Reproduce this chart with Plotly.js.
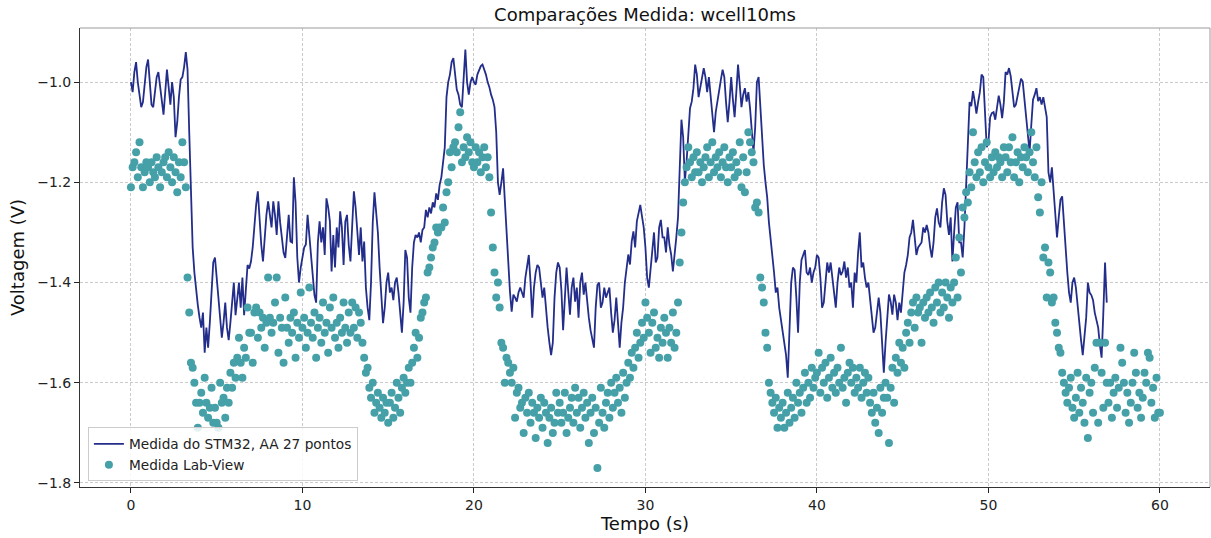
<!DOCTYPE html>
<html>
<head>
<meta charset="utf-8">
<script src="https://cdn.plot.ly/plotly-3.0.1.min.js"></script>
<style>
html,body{margin:0;padding:0;background:#fff;}
#chart{width:1211px;height:538px;}
</style>
</head>
<body>
<div id="chart"></div>
<script>
// ---- Data ----
const tituloGrafico = "Comparações Medida: wcell10ms";
const nomeSTM32 = "Medida do STM32, AA 27 pontos";
const nomeLabView = "Medida Lab-View";
const tituloX = "Tempo (s)";
const tituloY = "Voltagem (V)";

// STM32 measurement (moving average of 27 points), sampled every 0.1 s starting at 0 s
const periodoSTM32 = 0.1;
const tensaoSTM32 = [
 -1.00,-1.02,-0.98,-0.96,-1.00,-1.03,-1.05,-1.04,-1.01,-0.97,
 -0.955,-1.00,-1.045,-1.05,-1.02,-0.99,-0.98,-1.01,-1.03,-1.065,
 -1.02,-0.975,-1.01,-1.045,-1.00,-1.03,-1.11,-1.08,-1.03,-0.995,
 -0.99,-0.97,-0.94,-0.975,-1.10,-1.20,-1.33,-1.38,-1.42,-1.445,
 -1.47,-1.49,-1.46,-1.54,-1.49,-1.53,-1.48,-1.42,-1.36,-1.35,
 -1.39,-1.44,-1.48,-1.51,-1.48,-1.44,-1.49,-1.515,-1.48,-1.44,
 -1.40,-1.465,-1.43,-1.40,-1.45,-1.39,-1.465,-1.41,-1.365,-1.372,
 -1.358,-1.33,-1.278,-1.245,-1.218,-1.278,-1.325,-1.358,-1.305,-1.265,
 -1.238,-1.265,-1.29,-1.238,-1.265,-1.305,-1.238,-1.28,-1.318,-1.34,
 -1.351,-1.305,-1.265,-1.318,-1.32,-1.19,-1.24,-1.35,-1.40,-1.37,
 -1.345,-1.33,-1.324,-1.265,-1.305,-1.345,-1.384,-1.425,-1.44,-1.32,
 -1.278,-1.32,-1.29,-1.345,-1.232,-1.25,-1.278,-1.378,-1.305,-1.37,
 -1.29,-1.33,-1.258,-1.29,-1.365,-1.278,-1.265,-1.325,-1.358,-1.297,
 -1.218,-1.25,-1.305,-1.345,-1.29,-1.358,-1.318,-1.41,-1.45,-1.475,
 -1.40,-1.28,-1.22,-1.26,-1.30,-1.37,-1.44,-1.481,-1.45,-1.40,
 -1.38,-1.42,-1.41,-1.435,-1.40,-1.39,-1.42,-1.47,-1.50,-1.44,
 -1.335,-1.35,-1.43,-1.46,-1.37,-1.32,-1.305,-1.31,-1.30,-1.32,
 -1.295,-1.29,-1.255,-1.27,-1.25,-1.262,-1.24,-1.25,-1.222,-1.235,
 -1.205,-1.19,-1.16,-1.13,-1.03,-1.00,-0.985,-0.96,-0.952,-0.99,
 -1.015,-1.025,-1.045,-1.05,-0.98,-0.935,-1.00,-1.025,-1.00,-0.99,
 -1.00,-1.005,-0.985,-0.975,-0.968,-0.965,-0.975,-0.985,-1.00,-1.01,
 -1.025,-1.035,-1.05,-1.10,-1.20,-1.225,-1.20,-1.172,-1.235,-1.30,
 -1.355,-1.418,-1.458,-1.424,-1.43,-1.438,-1.42,-1.41,-1.42,-1.43,
 -1.39,-1.37,-1.345,-1.40,-1.47,-1.41,-1.38,-1.365,-1.37,-1.40,
 -1.43,-1.41,-1.46,-1.49,-1.52,-1.545,-1.52,-1.43,-1.38,-1.36,
 -1.37,-1.415,-1.495,-1.43,-1.37,-1.418,-1.464,-1.41,-1.39,-1.438,
 -1.41,-1.47,-1.40,-1.38,-1.424,-1.40,-1.44,-1.47,-1.495,-1.515,
 -1.53,-1.45,-1.405,-1.40,-1.45,-1.44,-1.41,-1.43,-1.42,-1.41,
 -1.46,-1.50,-1.475,-1.43,-1.48,-1.53,-1.48,-1.45,-1.40,-1.372,
 -1.344,-1.364,-1.318,-1.298,-1.33,-1.278,-1.262,-1.245,-1.268,-1.29,
 -1.33,-1.39,-1.41,-1.37,-1.33,-1.30,-1.36,-1.35,-1.29,-1.275,
 -1.31,-1.31,-1.34,-1.29,-1.325,-1.344,-1.378,-1.35,-1.31,-1.27,
 -1.17,-1.075,-1.11,-1.198,-1.158,-1.092,-1.052,-1.039,-1.012,-0.965,
 -0.985,-1.03,-1.01,-0.985,-0.972,-0.99,-1.02,-0.99,-1.03,-1.07,
 -1.10,-1.06,-1.035,-1.01,-0.995,-0.975,-0.99,-1.04,-1.08,-1.04,
 -0.99,-1.035,-1.07,-1.02,-0.965,-1.005,-1.05,-1.025,-1.012,-1.039,
 -1.02,-1.052,-1.092,-1.14,-1.09,-1.00,-0.99,-1.05,-1.12,-1.165,
 -1.20,-1.23,-1.28,-1.31,-1.34,-1.38,-1.42,-1.41,-1.45,-1.475,
 -1.505,-1.53,-1.545,-1.59,-1.48,-1.40,-1.37,-1.375,-1.43,-1.50,
 -1.40,-1.355,-1.345,-1.335,-1.38,-1.385,-1.37,-1.40,-1.38,-1.37,
 -1.345,-1.35,-1.39,-1.45,-1.44,-1.40,-1.36,-1.38,-1.36,-1.39,
 -1.42,-1.45,-1.40,-1.37,-1.385,-1.378,-1.358,-1.39,-1.37,-1.41,
 -1.40,-1.45,-1.38,-1.40,-1.34,-1.30,-1.37,-1.36,-1.39,-1.41,
 -1.40,-1.43,-1.46,-1.50,-1.49,-1.465,-1.43,-1.46,-1.52,-1.58,
 -1.52,-1.465,-1.424,-1.438,-1.464,-1.424,-1.44,-1.475,-1.44,-1.46,
 -1.41,-1.38,-1.365,-1.345,-1.31,-1.30,-1.275,-1.31,-1.345,-1.33,
 -1.325,-1.32,-1.29,-1.30,-1.285,-1.30,-1.33,-1.35,-1.32,-1.27,
 -1.252,-1.28,-1.29,-1.24,-1.212,-1.225,-1.278,-1.305,-1.27,-1.358,
 -1.30,-1.25,-1.24,-1.32,-1.32,-1.35,-1.29,-1.20,-1.10,-1.04,
 -1.048,-1.018,-1.038,-1.063,-1.04,-1.02,-0.985,-0.99,-1.06,-1.13,
 -1.12,-1.07,-1.062,-1.06,-1.075,-1.05,-1.027,-1.045,-1.072,-1.04,
 -0.98,-0.985,-0.972,-0.988,-1.02,-1.05,-1.045,-1.028,-1.005,-0.993,
 -0.999,-1.035,-1.068,-1.105,-1.14,-1.085,-1.035,-1.025,-1.012,-1.038,
 -1.03,-1.045,-1.03,-1.05,-1.07,-1.18,-1.20,-1.17,-1.22,-1.27,
 -1.31,-1.27,-1.235,-1.228,-1.28,-1.34,-1.38,-1.42,-1.44,-1.40,
 -1.39,-1.41,-1.45,-1.48,-1.515,-1.545,-1.50,-1.47,-1.40,-1.42,
 -1.425,-1.435,-1.46,-1.475,-1.49,-1.525,-1.55,-1.46,-1.36,-1.44
];

// Lab-View measurement, sampled every 0.1 s starting at 0 s
const periodoLabView = 0.1;
const tensaoLabView = [
 -1.21,-1.17,-1.16,-1.14,-1.19,-1.12,-1.17,-1.21,-1.18,-1.16,
 -1.17,-1.20,-1.16,-1.18,-1.19,-1.15,-1.17,-1.21,-1.18,-1.16,
 -1.15,-1.19,-1.14,-1.17,-1.20,-1.15,-1.18,-1.22,-1.16,-1.19,
 -1.12,-1.16,-1.21,-1.39,-1.46,-1.56,-1.57,-1.60,-1.64,-1.69,
 -1.64,-1.62,-1.66,-1.59,-1.64,-1.67,-1.65,-1.61,-1.68,-1.65,
 -1.68,-1.69,-1.60,-1.64,-1.63,-1.67,-1.61,-1.64,-1.58,-1.61,
 -1.56,-1.59,-1.55,-1.51,-1.56,-1.59,-1.53,-1.55,-1.45,-1.50,
 -1.50,-1.56,-1.46,-1.45,-1.51,-1.46,-1.49,-1.47,-1.53,-1.48,
 -1.39,-1.47,-1.50,-1.48,-1.44,-1.39,-1.54,-1.47,-1.49,-1.56,
 -1.43,-1.49,-1.52,-1.47,-1.50,-1.46,-1.55,-1.48,-1.51,-1.42,
 -1.49,-1.47,-1.53,-1.50,-1.41,-1.48,-1.51,-1.46,-1.55,-1.49,
 -1.47,-1.52,-1.44,-1.50,-1.48,-1.54,-1.45,-1.49,-1.43,-1.51,
 -1.48,-1.53,-1.47,-1.50,-1.44,-1.49,-1.52,-1.46,-1.50,-1.44,
 -1.49,-1.45,-1.51,-1.46,-1.48,-1.52,-1.55,-1.58,-1.57,-1.61,
 -1.63,-1.60,-1.66,-1.64,-1.62,-1.65,-1.67,-1.63,-1.66,-1.64,
 -1.68,-1.64,-1.62,-1.67,-1.65,-1.60,-1.63,-1.66,-1.61,-1.59,
 -1.62,-1.60,-1.57,-1.60,-1.56,-1.53,-1.50,-1.55,-1.51,-1.47,
 -1.46,-1.44,-1.43,-1.38,-1.37,-1.35,-1.33,-1.32,-1.29,-1.30,
 -1.29,-1.29,-1.25,-1.28,-1.22,-1.20,-1.14,-1.17,-1.13,-1.12,
 -1.14,-1.09,-1.06,-1.16,-1.13,-1.15,-1.11,-1.14,-1.12,-1.16,
 -1.17,-1.13,-1.16,-1.14,-1.18,-1.15,-1.13,-1.17,-1.15,-1.19,
 -1.26,-1.33,-1.38,-1.43,-1.40,-1.45,-1.52,-1.53,-1.60,-1.55,
 -1.56,-1.58,-1.60,-1.57,-1.67,-1.62,-1.61,-1.65,-1.64,-1.70,
 -1.63,-1.66,-1.62,-1.68,-1.64,-1.66,-1.71,-1.65,-1.67,-1.63,
 -1.69,-1.64,-1.66,-1.72,-1.67,-1.65,-1.70,-1.68,-1.62,-1.66,
 -1.64,-1.68,-1.66,-1.62,-1.70,-1.67,-1.65,-1.63,-1.68,-1.61,
 -1.66,-1.63,-1.69,-1.65,-1.62,-1.67,-1.64,-1.72,-1.66,-1.63,
 -1.70,-1.65,-1.77,-1.68,-1.61,-1.66,-1.69,-1.64,-1.62,-1.67,
 -1.60,-1.65,-1.62,-1.59,-1.64,-1.61,-1.66,-1.58,-1.63,-1.60,
 -1.56,-1.59,-1.54,-1.57,-1.53,-1.50,-1.55,-1.52,-1.48,-1.51,
 -1.44,-1.47,-1.50,-1.54,-1.48,-1.46,-1.53,-1.51,-1.55,-1.49,
 -1.52,-1.47,-1.50,-1.55,-1.49,-1.52,-1.46,-1.53,-1.50,-1.44,
 -1.36,-1.30,-1.24,-1.20,-1.17,-1.13,-1.16,-1.19,-1.15,-1.18,
 -1.14,-1.18,-1.16,-1.20,-1.17,-1.15,-1.13,-1.19,-1.16,-1.12,
 -1.18,-1.15,-1.17,-1.14,-1.19,-1.16,-1.13,-1.17,-1.20,-1.15,
 -1.17,-1.14,-1.19,-1.16,-1.18,-1.12,-1.21,-1.15,-1.22,-1.18,
 -1.10,-1.12,-1.14,-1.16,-1.25,-1.24,-1.26,-1.39,-1.41,-1.44,
 -1.50,-1.53,-1.60,-1.62,-1.64,-1.66,-1.63,-1.69,-1.65,-1.67,
 -1.64,-1.69,-1.66,-1.62,-1.68,-1.65,-1.63,-1.67,-1.60,-1.64,
 -1.62,-1.66,-1.61,-1.58,-1.64,-1.60,-1.63,-1.57,-1.61,-1.59,
 -1.58,-1.54,-1.62,-1.57,-1.60,-1.56,-1.63,-1.59,-1.55,-1.61,
 -1.58,-1.62,-1.57,-1.60,-1.53,-1.61,-1.59,-1.64,-1.58,-1.56,
 -1.60,-1.57,-1.62,-1.59,-1.61,-1.57,-1.63,-1.60,-1.58,-1.62,
 -1.59,-1.64,-1.66,-1.62,-1.68,-1.65,-1.70,-1.61,-1.66,-1.63,
 -1.60,-1.63,-1.72,-1.61,-1.57,-1.64,-1.55,-1.58,-1.52,-1.56,
 -1.53,-1.57,-1.50,-1.48,-1.52,-1.46,-1.44,-1.49,-1.43,-1.46,
 -1.45,-1.52,-1.44,-1.47,-1.43,-1.46,-1.42,-1.45,-1.48,-1.41,
 -1.44,-1.40,-1.46,-1.42,-1.45,-1.40,-1.43,-1.47,-1.41,-1.44,
 -1.40,-1.35,-1.43,-1.31,-1.38,-1.25,-1.27,-1.22,-1.24,-1.18,
 -1.21,-1.10,-1.16,-1.19,-1.14,-1.18,-1.13,-1.20,-1.16,-1.12,
 -1.17,-1.19,-1.15,-1.18,-1.14,-1.17,-1.15,-1.16,-1.19,-1.13,
 -1.15,-1.18,-1.13,-1.16,-1.11,-1.19,-1.16,-1.14,-1.20,-1.15,
 -1.17,-1.13,-1.15,-1.18,-1.14,-1.10,-1.16,-1.19,-1.13,-1.23,
 -1.26,-1.20,-1.35,-1.33,-1.43,-1.36,-1.38,-1.44,-1.43,-1.48,
 -1.50,-1.53,-1.54,-1.58,-1.60,-1.62,-1.64,-1.61,-1.59,-1.65,
 -1.67,-1.63,-1.58,-1.66,-1.61,-1.64,-1.68,-1.59,-1.71,-1.62,
 -1.60,-1.66,-1.57,-1.52,-1.68,-1.52,-1.58,-1.65,-1.52,-1.60,
 -1.64,-1.60,-1.67,-1.62,-1.59,-1.65,-1.61,-1.53,-1.56,-1.60,
 -1.66,-1.62,-1.68,-1.64,-1.60,-1.54,-1.58,-1.65,-1.62,-1.67,
 -1.63,-1.58,-1.60,-1.54,-1.55,-1.64,-1.61,-1.67,-1.59,-1.66,
 -1.66
];

// Axis ticks
const ticksX = [0, 10, 20, 30, 40, 50, 60];
const ticksY = [-1.8, -1.6, -1.4, -1.2, -1.0];

// ---- Build ----
const tempoSTM32 = tensaoSTM32.map((_, i) => +(i * periodoSTM32).toFixed(2));
const tempoLabView = tensaoLabView.map((_, i) => +(i * periodoLabView).toFixed(2));

const fonte = "DejaVu Sans, Liberation Sans, sans-serif";

const traces = [
  {
    x: tempoSTM32, y: tensaoSTM32, name: nomeSTM32,
    type: "scatter", mode: "lines",
    line: {color: "#232d8a", width: 1.8}
  },
  {
    x: tempoLabView, y: tensaoLabView, name: nomeLabView,
    type: "scatter", mode: "markers",
    marker: {color: "#45a0a8", size: 8}
  }
];

const gridStyle = {gridcolor: "#bdbdbd", griddash: "3px,2px", gridwidth: 0.8};

const layout = {
  width: 1211, height: 538,
  margin: {l: 80, r: 1, t: 28, b: 51, pad: 0},
  paper_bgcolor: "#ffffff", plot_bgcolor: "#ffffff",
  font: {family: fonte, size: 13, color: "#222"},
  title: {text: tituloGrafico, font: {family: fonte, size: 18, color: "#111"},
          x: 0.5, xref: "paper", xanchor: "center", y: 0.972, yref: "container", yanchor: "middle"},
  showlegend: true,
  legend: {x: 0.007, y: 0.012, xanchor: "left", yanchor: "bottom",
           bgcolor: "rgba(255,255,255,0.85)", bordercolor: "#cccccc", borderwidth: 1,
           font: {family: fonte, size: 13.7, color: "#222"}, tracegroupgap: 2},
  xaxis: Object.assign({
    range: [-2.97, 62.92], tickvals: ticksX, ticks: "outside", ticklen: 5, tickcolor: "#222",
    showline: true, linecolor: "#333", linewidth: 1, zeroline: false,
    tickfont: {family: fonte, size: 14, color: "#222"},
    title: {text: tituloX, font: {family: fonte, size: 18, color: "#111"}, standoff: 5},
    automargin: false
  }, gridStyle),
  yaxis: Object.assign({
    range: [-1.808, -0.892], tickvals: ticksY, tickformat: ".1f", ticks: "outside", ticklen: 5, tickcolor: "#222",
    showline: true, linecolor: "#333", linewidth: 1, zeroline: false,
    tickfont: {family: fonte, size: 14, color: "#222"},
    title: {text: tituloY, font: {family: fonte, size: 18, color: "#111"}, standoff: 7},
    automargin: false
  }, gridStyle),
  shapes: [
    {type: "line", xref: "paper", yref: "paper", x0: 0, x1: 1, y0: 1, y1: 1, line: {color: "#9a9a9a", width: 1}},
    {type: "line", xref: "paper", yref: "paper", x0: 1, x1: 1, y0: 0, y1: 1, line: {color: "#9a9a9a", width: 1}}
  ]
};

Plotly.newPlot("chart", traces, layout, {displayModeBar: false, staticPlot: true});
</script>
</body>
</html>
